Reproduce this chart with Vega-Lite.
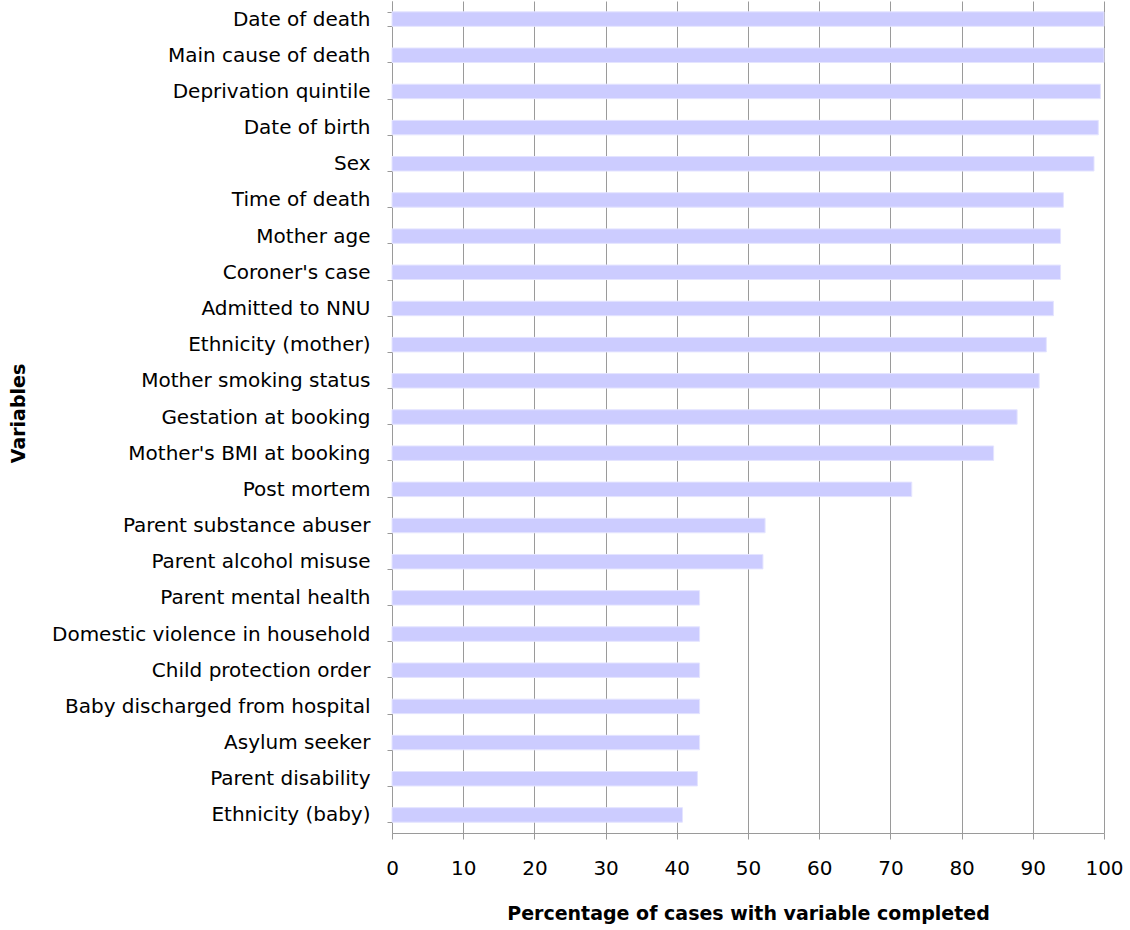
{
  "$schema": "https://vega.github.io/schema/vega-lite/v6.json",
  "autosize": {"type": "none"},
  "width": 712,
  "height": 832,
  "padding": {"left": 392, "top": 1, "right": 26, "bottom": 97},
  "background": "white",
  "config": {
    "view": {"stroke": null},
    "font": "DejaVu Sans"
  },
  "data": {
    "values": [
      {"variable": "Date of death", "pct": 100},
      {"variable": "Main cause of death", "pct": 100},
      {"variable": "Deprivation quintile", "pct": 99.5},
      {"variable": "Date of birth", "pct": 99.2},
      {"variable": "Sex", "pct": 98.6},
      {"variable": "Time of death", "pct": 94.3},
      {"variable": "Mother age", "pct": 93.9},
      {"variable": "Coroner's case", "pct": 93.9},
      {"variable": "Admitted to NNU", "pct": 92.9},
      {"variable": "Ethnicity (mother)", "pct": 91.9},
      {"variable": "Mother smoking status", "pct": 90.9},
      {"variable": "Gestation at booking", "pct": 87.8},
      {"variable": "Mother's BMI at booking", "pct": 84.5},
      {"variable": "Post mortem", "pct": 73.0},
      {"variable": "Parent substance abuser", "pct": 52.4},
      {"variable": "Parent alcohol misuse", "pct": 52.1},
      {"variable": "Parent mental health", "pct": 43.2},
      {"variable": "Domestic violence in household", "pct": 43.2},
      {"variable": "Child protection order", "pct": 43.2},
      {"variable": "Baby discharged from hospital", "pct": 43.2},
      {"variable": "Asylum seeker", "pct": 43.2},
      {"variable": "Parent disability", "pct": 42.9},
      {"variable": "Ethnicity (baby)", "pct": 40.8}
    ]
  },
  "mark": {"type": "bar", "color": "#CCCCFF", "stroke": "#E4E4FF", "strokeWidth": 1},
  "encoding": {
    "y": {
      "field": "variable",
      "type": "nominal",
      "sort": null,
      "scale": {"paddingInner": 0.6, "paddingOuter": 0.3},
      "axis": {
        "title": "Variables",
        "titleFont": "DejaVu Sans",
        "titleFontSize": 19,
        "titleFontWeight": "bold",
        "titleColor": "#000000",
        "titleAngle": -90,
        "titleAlign": "center",
        "titleBaseline": "middle",
        "titleX": -374,
        "titleY": 412,
        "labelFont": "DejaVu Sans",
        "labelFontSize": 20,
        "labelColor": "#000000",
        "labelPadding": 17,
        "labelLimit": 400,
        "tickBand": "extent",
        "tickSize": 5,
        "tickColor": "#9a9a9a",
        "domainColor": "#9a9a9a",
        "grid": false
      }
    },
    "x": {
      "field": "pct",
      "type": "quantitative",
      "scale": {"domain": [0, 100], "nice": false},
      "axis": {
        "title": "Percentage of cases with variable completed",
        "titleFont": "DejaVu Sans",
        "titleFontSize": 19,
        "titleFontWeight": "bold",
        "titleColor": "#000000",
        "titleBaseline": "middle",
        "titleY": 80,
        "values": [0, 10, 20, 30, 40, 50, 60, 70, 80, 90, 100],
        "labelFont": "DejaVu Sans",
        "labelFontSize": 20,
        "labelColor": "#000000",
        "labelBaseline": "middle",
        "labelPadding": 29,
        "labelFlush": false,
        "tickSize": 6,
        "tickColor": "#9a9a9a",
        "domainColor": "#9a9a9a",
        "grid": true,
        "gridColor": "#9a9a9a",
        "gridWidth": 1
      }
    }
  }
}
